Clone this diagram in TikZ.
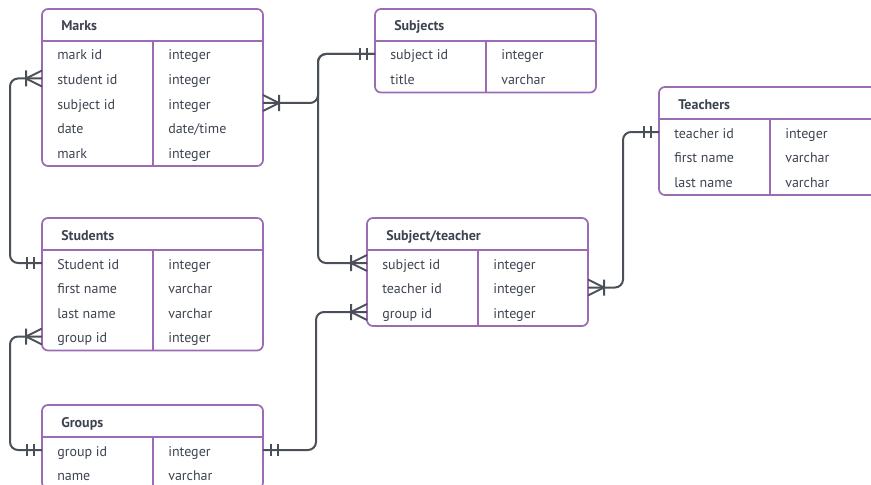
\documentclass[tikz,border=0pt]{standalone}
\usepackage{fontspec}
\setmainfont{PT Sans}
\usetikzlibrary{calc}

\definecolor{tableline}{HTML}{9B6BB3}
\definecolor{linkline}{HTML}{4B5058}
\definecolor{tabletext}{HTML}{3D4450}

\tikzset{
  tablebox/.style={draw=tableline, line width=1.3pt, rounded corners=4.5pt,
    minimum width=165.75pt, inner sep=0pt, outer sep=0pt},
  tablerule/.style={draw=tableline, line width=1.3pt},
  tabletitle/.style={anchor=base west, inner sep=0pt, text=tabletext,
    font=\fontsize{10.5}{12}\selectfont\bfseries},
  fieldtext/.style={anchor=base west, inner sep=0pt, text=tabletext,
    font=\fontsize{10.5}{12}\selectfont},
  link/.style={draw=linkline, line width=1.5pt, rounded corners=6pt},
  crowfoot/.pic={\draw[draw=linkline, line width=1.5pt] (0,-8) -- (16,0) -- (0,8) (16,-8) -- (16,8);},
  onebar/.pic={\draw[draw=linkline, line width=1.5pt] (8,-6) -- (8,6) (15,-6) -- (15,6);}
}

% table: name, top left, title, number of rows, field/type list
\newcommand{\ertable}[5]{%
  \pgfmathsetmacro\tabheight{(34.5+#4*24.5)*0.75}
  \node[tablebox, minimum height=\tabheight pt, anchor=north west] (#1) at #2 {};
  \node[tabletitle] (#1-title) at ($(#1.north west)+(19,22)$) {#3};
  \draw[tablerule] ($(#1.north west)+(0,32)$) -- ($(#1.north east)+(0,32)$);
  \draw[tablerule] ($(#1.north west)+(111,32)$) -- ($(#1.south west)+(111,0)$);
  \foreach \field/\type [count=\i] in {#5} {
    \coordinate (#1-row\i) at ($(#1.north west)+(0,20.5+\i*24.5)$);
    \node[fieldtext] (#1-field\i) at ($(#1-row\i)+(15,6)$) {\field};
    \node[fieldtext] (#1-type\i) at ($(#1-row\i)+(126,6)$) {\type};
  }
}

\begin{document}
\begin{tikzpicture}[x=0.75pt, y=-0.75pt]
\clip (0,0) rectangle (871,485);

\ertable{marks}{(42,9)}{Marks}{5}{mark id/integer, student id/integer, subject id/integer, date/{date/time}, mark/integer}
\ertable{subjects}{(375,9)}{Subjects}{2}{subject id/integer, title/varchar}
\ertable{teachers}{(659,87)}{Teachers}{3}{teacher id/integer, first name/varchar, last name/varchar}
\ertable{students}{(42,218)}{Students}{4}{Student id/integer, first name/varchar, last name/varchar, group id/integer}
\ertable{subjteach}{(367,218)}{Subject/teacher}{3}{subject id/integer, teacher id/integer, group id/integer}
\ertable{groups}{(42,405)}{Groups}{2}{group id/integer, name/varchar}

% relations
\draw[link] (marks-row2) -- ++(-32,0) |- (students-row1);
\pic[rotate=180] at (marks-row2) {crowfoot};
\pic[rotate=180] at (students-row1) {onebar};

\draw[link] (marks.east |- marks-row3) -- ++(55,0) |- (subjects-row1);
\pic at (marks.east |- marks-row3) {crowfoot};
\pic[rotate=180] at (subjects-row1) {onebar};

\draw[link] (subjteach-row1) -- ++(-49,0) |- (subjects-row1);
\pic[rotate=180] at (subjteach-row1) {crowfoot};

\draw[link] (subjteach.east |- subjteach-row2) -- ++(35,0) |- (teachers-row1);
\pic at (subjteach.east |- subjteach-row2) {crowfoot};
\pic[rotate=180] at (teachers-row1) {onebar};

\draw[link] (subjteach-row3) -- ++(-51,0) |- (groups.east |- groups-row1);
\pic[rotate=180] at (subjteach-row3) {crowfoot};
\pic at (groups.east |- groups-row1) {onebar};

\draw[link] (students-row4) -- ++(-32,0) |- (groups-row1);
\pic[rotate=180] at (students-row4) {crowfoot};
\pic[rotate=180] at (groups-row1) {onebar};

\end{tikzpicture}
\end{document}
